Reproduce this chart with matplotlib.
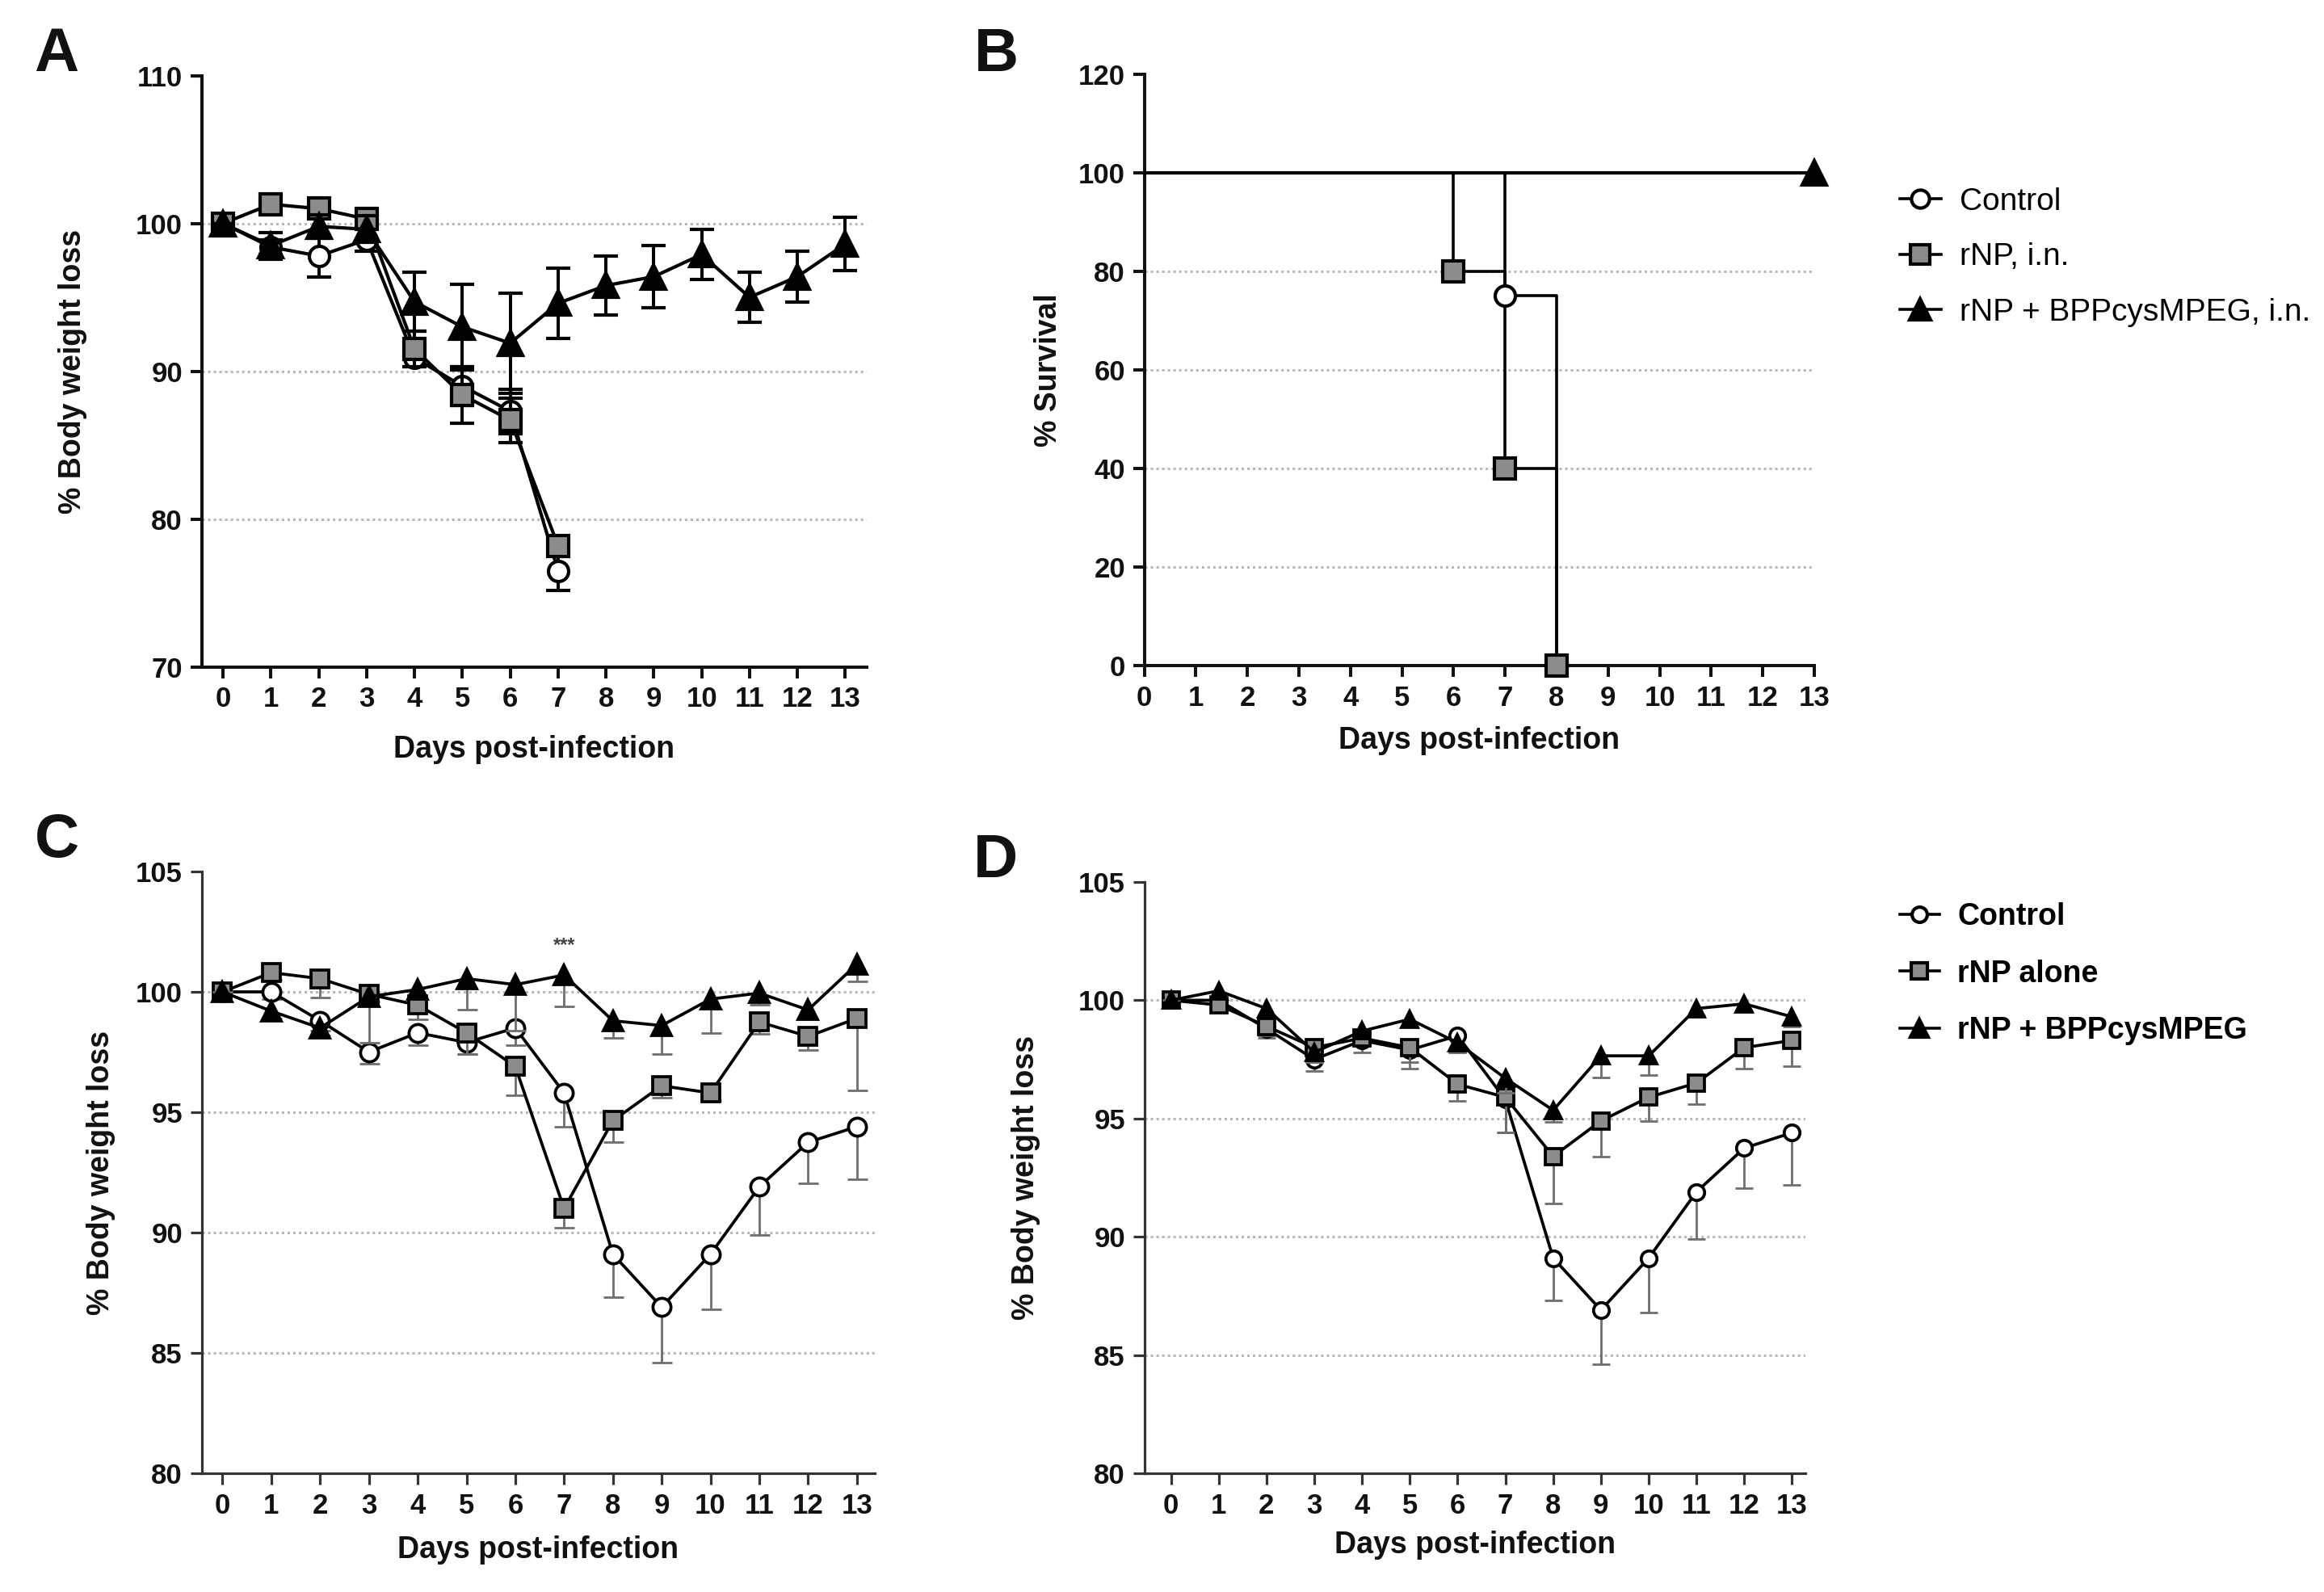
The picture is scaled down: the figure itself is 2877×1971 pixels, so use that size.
import matplotlib
matplotlib.use('Agg')
import matplotlib.pyplot as plt
from matplotlib.lines import Line2D
import numpy as np

plt.rcParams['font.family'] = ['Liberation Sans', 'DejaVu Sans']

# ---------------- data ----------------
days_a = [0, 1, 2, 3, 4, 5, 6, 7]
days_full = [0, 1, 2, 3, 4, 5, 6, 7, 8, 9, 10, 11, 12, 13]

# Panel A: % body weight (mean, SD)
a_control = [100, 98.4, 97.8, 98.9, 90.9, 89.0, 87.3, 76.5]
a_control_sd = [0, 0.5, 1.4, 0.8, 0.6, 1.3, 1.5, 1.3]
a_rnp = [100, 101.3, 101.0, 100.3, 91.5, 88.4, 86.7, 78.2]
a_rnp_sd = [0, 0.3, 0.5, 0.6, 1.2, 1.9, 1.5, 0.5]
a_bpp = [100, 98.5, 99.8, 99.6, 94.7, 93.0, 91.9, 94.6, 95.8, 96.4, 97.9, 95.0, 96.4, 98.6]
a_bpp_sd = [0, 0.9, 0.8, 0.9, 2.0, 2.9, 3.4, 2.4, 2.0, 2.1, 1.7, 1.7, 1.7, 1.8]

# Panel B: survival (Kaplan-Meier steps)
b_control_days = [0, 7, 8]
b_control_surv = [100, 75, 0]
b_rnp_days = [0, 6, 7, 8]
b_rnp_surv = [100, 80, 40, 0]
b_bpp_days = [0, 13]
b_bpp_surv = [100, 100]

# Panel C
c_control = [100, 100, 98.8, 97.5, 98.3, 97.9, 98.5, 95.8, 89.1, 86.9, 89.1, 91.9, 93.75, 94.4]
c_control_err = [0, 0.3, 0.4, 0.5, 0.5, 0.5, 0.7, 1.4, 1.8, 2.3, 2.3, 2.0, 1.7, 2.2]
c_rnp = [100, 100.8, 100.55, 99.9, 99.45, 98.3, 96.9, 91.0, 94.65, 96.1, 95.8, 98.75, 98.15, 98.9]
c_rnp_err = [0, 0.3, 0.8, 0.3, 0.6, 0.9, 1.2, 0.8, 0.9, 0.5, 0.3, 0.5, 0.55, 3.0]
c_bpp = [100, 99.2, 98.5, 99.8, 100.1, 100.55, 100.3, 100.7, 98.8, 98.6, 99.7, 99.95, 99.25, 101.15]
c_bpp_err = [0, 0.3, 0.3, 1.9, 0.4, 1.3, 1.9, 1.3, 0.7, 1.2, 1.4, 0.5, 0.4, 0.7]

# Panel D
d_control = [100, 100, 98.8, 97.5, 98.3, 97.9, 98.5, 95.8, 89.1, 86.9, 89.1, 91.9, 93.75, 94.4]
d_control_err = [0, 0.3, 0.4, 0.5, 0.5, 0.5, 0.7, 1.4, 1.8, 2.3, 2.3, 2.0, 1.7, 2.2]
d_rnp = [100, 99.8, 98.9, 98.0, 98.4, 98.0, 96.45, 95.9, 93.4, 94.9, 95.9, 96.5, 98.0, 98.3]
d_rnp_err = [0, 0.2, 0.4, 0.6, 0.3, 0.9, 0.7, 1.5, 2.0, 1.5, 1.0, 0.9, 0.9, 1.1]
d_bpp = [100, 100.4, 99.65, 97.8, 98.7, 99.2, 98.2, 96.7, 95.35, 97.65, 97.65, 99.65, 99.85, 99.3]
d_bpp_err = [0, 0.2, 0.3, 0.4, 0.3, 0.3, 0.4, 0.6, 0.5, 0.9, 0.8, 0.3, 0.3, 0.4]

legend_b = ['Control', 'rNP, i.n.', 'rNP + BPPcysMPEG, i.n.']
legend_d = ['Control', 'rNP alone', 'rNP + BPPcysMPEG']

yticks_a = [70, 80, 90, 100, 110]
yticks_b = [0, 20, 40, 60, 80, 100, 120]
yticks_cd = [80, 85, 90, 95, 100, 105]

xlabel = 'Days post-infection'
ylabel_w = '% Body weight loss'
ylabel_s = '% Survival'

# ---------------- figure ----------------
W, H = 2877, 1971
fig = plt.figure(figsize=(W / 100, H / 100), dpi=100)


def add_axes(l, t, r, b):
    return fig.add_axes([l / W, 1 - b / H, (r - l) / W, (b - t) / H])


axA = add_axes(249.5, 93.6, 1073, 825.7)
axB = add_axes(1416.5, 91.7, 2246, 824)
axC = add_axes(249.5, 1079, 1082.5, 1824)
axD = add_axes(1416.5, 1092, 2235, 1824)

GRAY = '#8c8c8c'
GRID = '#b8b8b8'


def style(ax, color, lw, xlim, ylim, yticks, xticks=days_full):
    for s in ['top', 'right']:
        ax.spines[s].set_visible(False)
    for s in ['left', 'bottom']:
        ax.spines[s].set_linewidth(lw)
        ax.spines[s].set_color(color)
    ax.set_xlim(xlim)
    ax.set_ylim(ylim)
    ax.set_xticks(xticks)
    ax.set_yticks(yticks)
    ax.tick_params(length=10, width=lw, color=color, labelsize=25, pad=7,
                   labelcolor='#111111')
    for lab in ax.get_xticklabels() + ax.get_yticklabels():
        lab.set_fontweight('bold')
    for y in yticks[1:-1]:
        ax.axhline(y, color=GRID, lw=2.2, ls=(0, (1, 1.3)), zorder=0)


style(axA, '#111111', 2.9, (-0.45, 13.45), (70, 110), yticks_a)
style(axB, '#111111', 2.9, (0, 13), (0, 120), yticks_b)
style(axC, '#333333', 2.3, (-0.43, 13.36), (80, 105), yticks_cd)
style(axD, '#333333', 2.3, (-0.56, 13.28), (80, 105), yticks_cd)

# ---------------- Panel A ----------------
common_a = dict(color='k', lw=3.0, elinewidth=2.9, capsize=11, capthick=2.9,
                mec='k', mew=3, clip_on=False)
axA.errorbar(days_a, a_control, yerr=a_control_sd, marker='o', ms=18, mfc='white',
             zorder=3, **common_a)
axA.errorbar(days_a, a_rnp, yerr=a_rnp_sd, marker='s', ms=19, mfc=GRAY,
             zorder=4, **common_a)
axA.errorbar(days_full, a_bpp, yerr=a_bpp_sd, marker='^', ms=21, mfc='k',
             zorder=5, **common_a)

# ---------------- Panel B ----------------
axB.step(b_control_days, b_control_surv, where='post', color='k', lw=2.6,
         zorder=3, clip_on=False)
axB.step(b_rnp_days, b_rnp_surv, where='post', color='k', lw=2.6,
         zorder=3, clip_on=False)
axB.step(b_bpp_days, b_bpp_surv, where='post', color='k', lw=3.0,
         zorder=3, clip_on=False)
axB.plot(b_control_days[1:], b_control_surv[1:], ls='none', marker='o', ms=18,
         mfc='white', mec='k', mew=3, zorder=4, clip_on=False)
axB.plot(b_rnp_days[1:], b_rnp_surv[1:], ls='none', marker='s', ms=19,
         mfc=GRAY, mec='k', mew=3, zorder=5, clip_on=False)
axB.plot(b_bpp_days[1:], b_bpp_surv[1:], ls='none', marker='^', ms=21,
         mfc='k', mec='k', mew=3, zorder=5, clip_on=False)


# ---------------- Panels C and D ----------------
def lower_err(ax, x, y, err, cap, z):
    zeros = np.zeros(len(err))
    _, caplines, _ = ax.errorbar(x, y, yerr=[err, zeros], fmt='none', ecolor='#6e6e6e',
                                 elinewidth=2.0, capsize=cap, capthick=2.0, zorder=z,
                                 clip_on=False)
    for cl in caplines:
        if np.allclose(cl.get_ydata(), y):
            cl.set_visible(False)


def series(ax, x, y, err, marker, ms, mfc, cap, z):
    lower_err(ax, x, y, err, cap, z)
    ax.plot(x, y, color='k', lw=2.7, marker=marker, ms=ms, mfc=mfc, mec='k', mew=2.7,
            zorder=z + 0.5, clip_on=False)


series(axC, days_full, c_control, c_control_err, 'o', 16, 'white', 9, 3)
series(axC, days_full, c_rnp, c_rnp_err, 's', 16, GRAY, 9, 4)
series(axC, days_full, c_bpp, c_bpp_err, '^', 17, 'k', 9, 5)
axC.text(7, 101.55, '***', ha='center', va='bottom', fontsize=17, fontweight='bold',
         color='#444444')

series(axD, days_full, d_control, d_control_err, 'o', 14, 'white', 8, 3)
series(axD, days_full, d_rnp, d_rnp_err, 's', 14, GRAY, 8, 4)
series(axD, days_full, d_bpp, d_bpp_err, '^', 15, 'k', 8, 5)

# ---------------- labels ----------------
label_kw = dict(fontsize=27, fontweight='bold', color='#111111')
for ax, yl, ycx, xly in [(axA, ylabel_w, -0.172, -0.115), (axB, ylabel_s, -0.1215, -0.103),
                         (axC, ylabel_w, -0.128, -0.104), (axD, ylabel_w, -0.157, -0.097)]:
    ax.set_ylabel(yl, **label_kw)
    ax.yaxis.set_label_coords(ycx, 0.5)
    ax.set_xlabel(xlabel, **label_kw)
    ax.xaxis.set_label_coords(0.5, xly)

for txt, x, y in [('A', 70, 69), ('B', 1233, 69), ('C', 70, 1042), ('D', 1233, 1066)]:
    fig.text(x / W, 1 - y / H, txt, fontsize=55, fontweight='bold', ha='center',
             va='center', color='#111111')


# ---------------- legends ----------------
def handles(ms_scale):
    return [
        Line2D([], [], color='k', lw=2.6, marker='o', ms=16 * ms_scale, mfc='white',
               mec='k', mew=3),
        Line2D([], [], color='k', lw=2.6, marker='s', ms=17 * ms_scale, mfc=GRAY,
               mec='k', mew=3),
        Line2D([], [], color='k', lw=2.6, marker='^', ms=19 * ms_scale, mfc='k',
               mec='k', mew=3),
    ]


fig.legend(handles(1.0), legend_b, loc='upper left',
           bbox_to_anchor=(2352 / W, 1 - 232 / H), frameon=False,
           prop=dict(family=['Liberation Sans', 'DejaVu Sans'], size=28),
           handlelength=1.3, handletextpad=0.6, labelspacing=0.83, borderpad=0,
           borderaxespad=0)
fig.legend(handles(0.85), legend_d, loc='upper left',
           bbox_to_anchor=(2352 / W, 1 - 1117 / H), frameon=False,
           prop=dict(family=['Liberation Sans', 'DejaVu Sans'], size=27, weight='bold'),
           handlelength=1.3, handletextpad=0.6, labelspacing=0.92, borderpad=0,
           borderaxespad=0)

fig.savefig('out.png', dpi=100)
